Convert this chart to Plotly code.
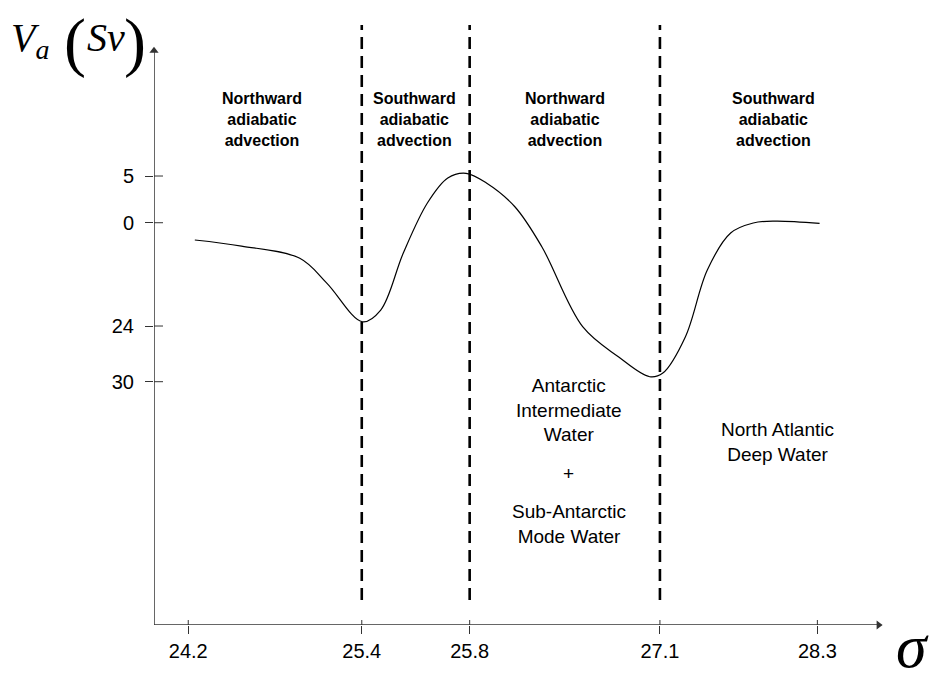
import plotly.graph_objects as go

# ---- data (schematic positions) ----
sigma_labels = ["24.2", "25.4", "25.8", "27.1", "28.3"]
sigma_pos = [4.7, 28.5, 43.3, 69.4, 91.0]

va_labels = ["5", "0", "24", "30"]
va_pos = [5.0, 0.0, -11.06, -17.02]

curve_x = [5.6, 12.0, 20.0, 23.7, 28.6, 31.1, 34.2, 37.5, 40.3, 42.8, 45.6, 49.5, 53.2,
           58.8, 63.7, 68.0, 69.8, 72.9, 75.9, 79.1, 82.2, 85.2, 91.3]
curve_y = [-1.85, -2.5, -3.81, -6.46, -10.6, -9.35, -3.24, 2.11, 4.79, 5.29, 4.25, 1.71, -2.57,
           -11.13, -14.35, -16.49, -16.09, -12.2, -5.06, -1.1, -0.03, 0.18, -0.06]

boundary_idx = [1, 2, 3]  # 25.4, 25.8, 27.1

regime_text = ["Northward<br>adiabatic<br>advection",
               "Southward<br>adiabatic<br>advection",
               "Northward<br>adiabatic<br>advection",
               "Southward<br>adiabatic<br>advection"]
regime_x = [14.8, 35.7, 56.4, 85.0]

X_RANGE = [0, 100]
Y_RANGE = [-43.07, 21.17]
Y_TOP_ARROW = 18.4
X_END_ARROW = 99.4

AX_COLOR = "#333333"
W_PLOT, H_PLOT, L, T = 729, 600, 154, 25


def px(xp):
    return (xp - L) / W_PLOT


def py(yp):
    return (T + H_PLOT - yp) / H_PLOT


fig = go.Figure()
fig.add_trace(go.Scatter(x=curve_x, y=curve_y, mode="lines",
                         line=dict(color="black", width=1.2, shape="spline", smoothing=1.0),
                         showlegend=False, hoverinfo="skip"))
# arrowheads of the axes
fig.add_trace(go.Scatter(x=[0], y=[Y_TOP_ARROW], mode="markers", cliponaxis=False,
                         marker=dict(symbol="triangle-up", size=8, color=AX_COLOR),
                         showlegend=False, hoverinfo="skip"))
fig.add_trace(go.Scatter(x=[X_END_ARROW], y=[Y_RANGE[0]], mode="markers", cliponaxis=False,
                         marker=dict(symbol="triangle-right", size=8, color=AX_COLOR),
                         showlegend=False, hoverinfo="skip"))

shapes = []
# axis lines
shapes.append(dict(type="line", xref="x", yref="y", x0=0, x1=X_END_ARROW,
                   y0=Y_RANGE[0], y1=Y_RANGE[0], line=dict(color=AX_COLOR, width=1.5)))
shapes.append(dict(type="line", xref="x", yref="y", x0=0, x1=0,
                   y0=Y_RANGE[0], y1=Y_TOP_ARROW, line=dict(color=AX_COLOR, width=1.5)))
for i in boundary_idx:
    shapes.append(dict(type="line", xref="x", yref="paper", x0=sigma_pos[i], x1=sigma_pos[i],
                       y0=25 / 600, y1=1.0,
                       line=dict(color="black", width=2.6, dash="12px,7px")))
# inner parts of the ticks (ticks cross the axes)
for v in va_pos:
    shapes.append(dict(type="line", xref="paper", yref="y", x0=0, x1=9 / W_PLOT, y0=v, y1=v,
                       line=dict(color=AX_COLOR, width=1)))
for s in sigma_pos:
    shapes.append(dict(type="line", xref="x", yref="paper", x0=s, x1=s, y0=0, y1=5 / H_PLOT,
                       line=dict(color=AX_COLOR, width=1)))

annotations = []
for t, x in zip(regime_text, regime_x):
    annotations.append(dict(x=x, y=11.0, xref="x", yref="y", text="<b>" + t + "</b>",
                            showarrow=False, xanchor="center", yanchor="middle",
                            font=dict(family="Liberation Sans, Arial", size=16, color="black")))

reg_font = dict(family="Liberation Sans, Arial", size=19, color="black")
annotations.append(dict(x=56.9, y=-20.05, xref="x", yref="y", showarrow=False,
                        text="Antarctic<br>Intermediate<br>Water", font=reg_font))
annotations.append(dict(x=56.9, y=-26.8, xref="x", yref="y", showarrow=False,
                        text="+", font=reg_font))
annotations.append(dict(x=56.9, y=-32.25, xref="x", yref="y", showarrow=False,
                        text="Sub-Antarctic<br>Mode Water", font=reg_font))
annotations.append(dict(x=85.5, y=-23.5, xref="x", yref="y", showarrow=False,
                        text="North Atlantic<br>Deep Water", font=reg_font))

# axis titles
serif = "Liberation Serif, Times New Roman"
annotations.append(dict(xref="paper", yref="paper", x=px(9), y=py(40),
                        xanchor="left", yanchor="middle", showarrow=False,
                        text="<i>V</i><sub><i>a</i></sub>",
                        font=dict(family=serif, size=40, color="black")))
annotations.append(dict(xref="paper", yref="paper", x=px(75), y=py(42),
                        xanchor="center", yanchor="middle", showarrow=False,
                        text="(", font=dict(family=serif, size=66, color="black")))
annotations.append(dict(xref="paper", yref="paper", x=px(106), y=py(38),
                        xanchor="center", yanchor="middle", showarrow=False,
                        text="<i>Sv</i>", font=dict(family=serif, size=40, color="black")))
annotations.append(dict(xref="paper", yref="paper", x=px(135), y=py(42),
                        xanchor="center", yanchor="middle", showarrow=False,
                        text=")", font=dict(family=serif, size=66, color="black")))
annotations.append(dict(xref="paper", yref="paper", x=px(912), y=py(646),
                        xanchor="center", yanchor="middle", showarrow=False,
                        text="<i>σ</i>",
                        font=dict(family=serif, size=62, color="black")))

fig.update_layout(
    width=935, height=673,
    margin=dict(l=L, r=935 - L - W_PLOT, t=T, b=673 - T - H_PLOT),
    plot_bgcolor="white", paper_bgcolor="white",
    shapes=shapes, annotations=annotations,
    xaxis=dict(range=X_RANGE, showgrid=False, zeroline=False, showline=False,
               tickmode="array", tickvals=sigma_pos, ticktext=sigma_labels,
               ticks="outside", ticklen=8, tickcolor=AX_COLOR, tickwidth=1,
               ticklabelstandoff=0,
               tickfont=dict(family="Liberation Sans, Arial", size=20, color="black")),
    yaxis=dict(range=Y_RANGE, showgrid=False, zeroline=False, showline=False,
               tickmode="array", tickvals=va_pos, ticktext=va_labels,
               ticks="outside", ticklen=8, tickcolor=AX_COLOR, tickwidth=1,
               ticklabelstandoff=7,
               tickfont=dict(family="Liberation Sans, Arial", size=20, color="black")),
)

fig.write_html("out.html")
